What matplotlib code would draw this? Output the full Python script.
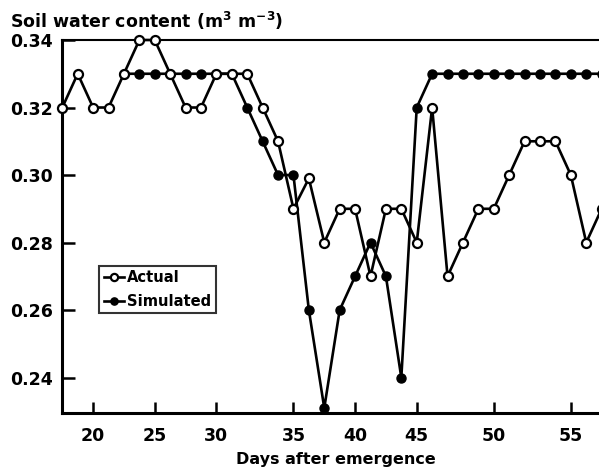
import numpy as np
import matplotlib
matplotlib.use("Agg")
import matplotlib.pyplot as plt

# sampling occasions (plotted evenly spaced, as in the original figure)
actual = [0.32, 0.33, 0.32, 0.32, 0.33, 0.34, 0.34, 0.33, 0.32, 0.32,
          0.33, 0.33, 0.33, 0.32, 0.31, 0.29, 0.299, 0.28, 0.29, 0.29,
          0.27, 0.29, 0.29, 0.28, 0.32, 0.27, 0.28, 0.29, 0.29, 0.30,
          0.31, 0.31, 0.31, 0.30, 0.28, 0.29]
simulated = [0.33, 0.33, 0.33, 0.33, 0.33, 0.33, 0.33, 0.33, 0.32, 0.31,
             0.30, 0.30, 0.26, 0.231, 0.26, 0.27, 0.28, 0.27, 0.24, 0.32,
             0.33, 0.33, 0.33, 0.33, 0.33, 0.33, 0.33, 0.33, 0.33, 0.33,
             0.33, 0.33]
sim_start = 4  # simulation begins at the 5th sampling occasion

# sample index at which each day label sits
day_ticks = [2, 6, 10, 15, 19, 23, 28, 33]
day_labels = ["20", "25", "30", "35", "40", "45", "50", "55"]
y_ticks = [0.24, 0.26, 0.28, 0.30, 0.32, 0.34]

plt.rcParams['font.family'] = 'DejaVu Sans'
plt.rcParams['font.weight'] = 'bold'

fig = plt.figure(figsize=(5.99, 4.69), dpi=100)
ax_w = 35 * 15.41
ax_h = 412.7 - 40
ax = fig.add_axes([62.3 / 599, 1 - 412.7 / 469, ax_w / 599, ax_h / 469])

xa = np.arange(len(actual))
xs = np.arange(len(simulated)) + sim_start

ax.plot(xs, simulated, '-o', color='black', lw=1.9, ms=6.5,
        mfc='black', mec='black', clip_on=False, zorder=3, label='Simulated')
ax.plot(xa, actual, '-o', color='black', lw=1.9, ms=6.5, mew=1.6,
        mfc='white', mec='black', clip_on=False, zorder=4, label='Actual')

ax.set_xlim(0, 35)
ax.set_ylim(0.2296, 0.34)

ax.set_xticks(day_ticks)
ax.set_xticklabels(day_labels)
ax.set_yticks(y_ticks)
ax.set_yticklabels(["%.2f" % v for v in y_ticks])

ax.tick_params(axis='both', direction='in', width=1.8, labelsize=12.5)
ax.tick_params(axis='y', length=9, pad=7)
ax.tick_params(axis='x', length=8, pad=10)

ax.spines['right'].set_visible(False)
ax.spines['left'].set_linewidth(2.2)
ax.spines['bottom'].set_linewidth(2.2)
ax.spines['top'].set_linewidth(1.5)

ax.set_xlabel("Days after emergence", fontsize=11.5, fontweight='bold')
ax.xaxis.set_label_coords((335.5 - 62.3) / ax_w, -(451.5 - 412.7) / ax_h)

fig.text(10 / 599, 1 - 28 / 469, "Soil water content (m$^{\\mathbf{3}}$ m$^{\\mathbf{-3}}$)",
         fontsize=12.5, fontweight='bold', ha='left', va='baseline')

handles, labels = ax.get_legend_handles_labels()
leg = ax.legend(handles[::-1], labels[::-1], loc='upper left',
                bbox_to_anchor=((99.3 - 62.3) / ax_w, (412.7 - 265.5) / ax_h),
                fontsize=10.6, frameon=True, fancybox=False, edgecolor='black',
                handlelength=1.4, handletextpad=0.2, borderpad=0.3,
                borderaxespad=0, labelspacing=0.6, markerscale=0.8)
leg.get_frame().set_linewidth(1.5)

fig.savefig("out.png", dpi=100)
